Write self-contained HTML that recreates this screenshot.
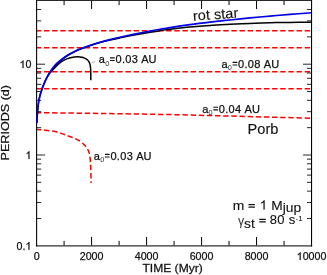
<!DOCTYPE html><html><head><meta charset="utf-8"><style>html,body{margin:0;padding:0;background:#fff;}svg{display:block;will-change:transform;opacity:0.999}text{font-family:"Liberation Sans",sans-serif;fill:#111;stroke:#111;stroke-width:0.25px}</style></head><body>
<svg width="327" height="275" viewBox="0 0 327 275">
<rect width="327" height="275" fill="#fff"/>
<path d="M36.6 30.7H311.55" stroke="#ff0000" stroke-width="1.5" stroke-dasharray="5.4 2.746" stroke-dashoffset="0.75" fill="none"/>
<path d="M36.6 47.7H311.55" stroke="#ff0000" stroke-width="1.5" stroke-dasharray="5.4 2.746" stroke-dashoffset="0.75" fill="none"/>
<path d="M36.6 71.75H311.55" stroke="#ff0000" stroke-width="1.5" stroke-dasharray="5.4 2.746" stroke-dashoffset="0.75" fill="none"/>
<path d="M36.6 88.7H311.55" stroke="#ff0000" stroke-width="1.5" stroke-dasharray="5.4 2.746" stroke-dashoffset="0.75" fill="none"/>
<path d="M36.6 112.7 L100 113.4 L182 114.8 L262 116.9 L311.55 118.2" stroke="#ff0000" stroke-width="1.5" stroke-dasharray="5.4 2.746" stroke-dashoffset="0.75" fill="none"/>
<path d="M36.60 129.50 C38.00 129.62 41.93 129.85 45.00 130.20 C48.07 130.55 52.17 131.03 55.00 131.60 C57.83 132.17 60.00 132.95 62.00 133.60 C64.00 134.25 65.17 134.82 67.00 135.50 C68.83 136.18 70.92 136.80 73.00 137.70 C75.08 138.60 77.50 139.58 79.50 140.90 C81.50 142.22 83.58 144.10 85.00 145.60 C86.42 147.10 87.22 148.30 88.00 149.90 C88.78 151.50 89.28 153.02 89.70 155.20 C90.12 157.38 90.30 160.20 90.50 163.00 C90.70 165.80 90.80 168.67 90.90 172.00 C91.00 175.33 91.07 181.17 91.10 183.00" stroke="#ff0000" stroke-width="1.5" stroke-dasharray="5.4 2.746" stroke-dashoffset="0.75" fill="none"/>
<path d="M36.6 218.47h4.6 M311.55 218.47h-4.6 M36.6 202.48h4.6 M311.55 202.48h-4.6 M36.6 191.13h4.6 M311.55 191.13h-4.6 M36.6 182.33h4.6 M311.55 182.33h-4.6 M36.6 175.14h4.6 M311.55 175.14h-4.6 M36.6 169.07h4.6 M311.55 169.07h-4.6 M36.6 163.80h4.6 M311.55 163.80h-4.6 M36.6 159.15h4.6 M311.55 159.15h-4.6 M36.6 155.00h8.5 M311.55 155.00h-8.5 M36.6 127.67h4.6 M311.55 127.67h-4.6 M36.6 111.68h4.6 M311.55 111.68h-4.6 M36.6 100.33h4.6 M311.55 100.33h-4.6 M36.6 91.53h4.6 M311.55 91.53h-4.6 M36.6 84.34h4.6 M311.55 84.34h-4.6 M36.6 78.27h4.6 M311.55 78.27h-4.6 M36.6 73.00h4.6 M311.55 73.00h-4.6 M36.6 68.35h4.6 M311.55 68.35h-4.6 M36.6 64.20h8.5 M311.55 64.20h-8.5 M36.6 36.87h4.6 M311.55 36.87h-4.6 M36.6 20.88h4.6 M311.55 20.88h-4.6 M36.6 9.53h4.6 M311.55 9.53h-4.6" stroke="#000" stroke-width="0.85" fill="none"/>
<path d="M64.09 245.5v-4.6 M64.09 0.5v4.6 M91.59 245.5v-8.5 M91.59 0.5v8.5 M119.09 245.5v-4.6 M119.09 0.5v4.6 M146.58 245.5v-8.5 M146.58 0.5v8.5 M174.07 245.5v-4.6 M174.07 0.5v4.6 M201.57 245.5v-8.5 M201.57 0.5v8.5 M229.06 245.5v-4.6 M229.06 0.5v4.6 M256.56 245.5v-8.5 M256.56 0.5v8.5 M284.06 245.5v-4.6 M284.06 0.5v4.6" stroke="#000" stroke-width="1" fill="none"/>
<path d="M36.95 122.90 C36.98 122.22 37.03 120.32 37.10 118.80 C37.17 117.28 37.27 115.55 37.40 113.80 C37.52 112.05 37.67 110.13 37.85 108.30 C38.03 106.47 38.26 104.42 38.50 102.80 C38.74 101.18 39.03 99.85 39.30 98.60 C39.57 97.35 39.72 96.63 40.10 95.30 C40.48 93.97 41.03 92.28 41.60 90.60 C42.17 88.92 42.68 87.22 43.50 85.20 C44.32 83.18 45.48 80.53 46.50 78.50 C47.52 76.47 48.60 74.63 49.60 73.00 C50.60 71.37 51.42 70.13 52.50 68.70 C53.58 67.27 54.48 65.97 56.10 64.40 C57.72 62.83 60.17 60.85 62.20 59.30 C64.23 57.75 66.25 56.35 68.30 55.10 C70.35 53.85 72.45 52.80 74.50 51.80 C76.55 50.80 78.32 50.02 80.60 49.10 C82.88 48.18 85.95 47.10 88.20 46.30 C90.45 45.50 92.13 44.93 94.10 44.30 C96.07 43.67 97.35 43.23 100.00 42.52 C102.65 41.81 106.67 40.83 110.00 40.06 C113.33 39.28 116.67 38.58 120.00 37.88 C123.33 37.19 126.67 36.52 130.00 35.88 C133.33 35.24 136.67 34.63 140.00 34.03 C143.33 33.43 146.67 32.85 150.00 32.29 C153.33 31.73 156.67 31.17 160.00 30.67 C163.33 30.18 165.00 29.93 170.00 29.32 C175.00 28.72 183.33 27.69 190.00 27.05 C196.67 26.40 203.33 25.89 210.00 25.44 C216.67 24.99 223.33 24.69 230.00 24.35 C236.67 24.01 243.33 23.67 250.00 23.40 C256.67 23.14 263.33 22.93 270.00 22.76 C276.67 22.60 283.05 22.49 290.00 22.42 C296.95 22.35 308.08 22.37 311.70 22.36" stroke="#000" stroke-width="1.5" fill="none"/>
<path d="M50.00 73.00 C50.52 72.42 52.10 70.60 53.10 69.50 C54.10 68.40 54.98 67.42 56.00 66.40 C57.02 65.38 58.20 64.23 59.20 63.40 C60.20 62.57 60.98 62.03 62.00 61.40 C63.02 60.77 64.25 60.10 65.30 59.60 C66.35 59.10 67.28 58.73 68.30 58.40 C69.32 58.07 70.37 57.83 71.40 57.60 C72.43 57.37 73.48 57.13 74.50 57.00 C75.52 56.87 76.58 56.82 77.50 56.80 C78.42 56.78 79.23 56.82 80.00 56.90 C80.77 56.98 81.43 57.13 82.10 57.30 C82.77 57.47 83.37 57.65 84.00 57.90 C84.63 58.15 85.35 58.48 85.90 58.80 C86.45 59.12 86.87 59.42 87.30 59.80 C87.73 60.18 88.15 60.60 88.50 61.10 C88.85 61.60 89.13 62.17 89.40 62.80 C89.67 63.43 89.92 64.15 90.10 64.90 C90.28 65.65 90.40 66.40 90.50 67.30 C90.60 68.20 90.65 69.05 90.70 70.30 C90.75 71.55 90.78 73.15 90.80 74.80 C90.82 76.45 90.80 79.30 90.80 80.20" stroke="#000" stroke-width="1.5" fill="none"/>
<path d="M91.6 62.9L95.2 61.6" stroke="#999" stroke-width="0.8" fill="none"/>
<path d="M36.0 245.9H312.15000000000003" fill="none" stroke="#303030" stroke-width="1.4"/>
<path d="M36.1 0.4H312.05" fill="none" stroke="#2a2a2a" stroke-width="1.08"/>
<path d="M36.6 0V246.6M311.55 0V246.6" fill="none" stroke="#000" stroke-width="1.08"/>
<path d="M36.95 122.60 C36.98 121.92 37.03 120.02 37.10 118.50 C37.17 116.98 37.27 115.25 37.40 113.50 C37.52 111.75 37.67 109.83 37.85 108.00 C38.03 106.17 38.26 104.12 38.50 102.50 C38.74 100.88 39.03 99.55 39.30 98.30 C39.57 97.05 39.72 96.33 40.10 95.00 C40.48 93.67 41.03 91.98 41.60 90.30 C42.17 88.62 42.68 86.92 43.50 84.90 C44.32 82.88 45.48 80.23 46.50 78.20 C47.52 76.17 48.60 74.33 49.60 72.70 C50.60 71.07 51.42 69.83 52.50 68.40 C53.58 66.97 54.48 65.67 56.10 64.10 C57.72 62.53 60.17 60.55 62.20 59.00 C64.23 57.45 66.25 56.05 68.30 54.80 C70.35 53.55 72.45 52.50 74.50 51.50 C76.55 50.50 78.32 49.72 80.60 48.80 C82.88 47.88 85.95 46.80 88.20 46.00 C90.45 45.20 92.13 44.63 94.10 44.00 C96.07 43.37 97.35 42.96 100.00 42.22 C102.65 41.49 106.67 40.42 110.00 39.59 C113.33 38.76 116.67 38.00 120.00 37.25 C123.33 36.50 126.67 35.79 130.00 35.08 C133.33 34.38 136.67 33.70 140.00 33.03 C143.33 32.37 146.67 31.72 150.00 31.09 C153.33 30.46 156.67 29.85 160.00 29.27 C163.33 28.69 165.00 28.36 170.00 27.60 C175.00 26.83 183.33 25.58 190.00 24.67 C196.67 23.77 203.33 22.96 210.00 22.17 C216.67 21.39 223.33 20.66 230.00 19.95 C236.67 19.25 243.33 18.58 250.00 17.94 C256.67 17.29 263.33 16.68 270.00 16.10 C276.67 15.51 283.05 14.98 290.00 14.42 C296.95 13.86 308.08 13.03 311.70 12.76" stroke="#0000e6" stroke-width="1.65" fill="none"/>
<text x="33.63" y="260.00" font-size="10.7">0</text>
<text x="79.69" y="260.00" font-size="10.7">2</text><text x="85.64" y="260.00" font-size="10.7">0</text><text x="91.59" y="260.00" font-size="10.7">0</text><text x="97.54" y="260.00" font-size="10.7">0</text>
<text x="134.68" y="260.00" font-size="10.7">4</text><text x="140.63" y="260.00" font-size="10.7">0</text><text x="146.58" y="260.00" font-size="10.7">0</text><text x="152.53" y="260.00" font-size="10.7">0</text>
<text x="189.67" y="260.00" font-size="10.7">6</text><text x="195.62" y="260.00" font-size="10.7">0</text><text x="201.57" y="260.00" font-size="10.7">0</text><text x="207.52" y="260.00" font-size="10.7">0</text>
<text x="244.66" y="260.00" font-size="10.7">8</text><text x="250.61" y="260.00" font-size="10.7">0</text><text x="256.56" y="260.00" font-size="10.7">0</text><text x="262.51" y="260.00" font-size="10.7">0</text>
<path transform="translate(296.68,260.00) scale(0.005225,-0.005225)" d="M763 0H583V1147Q518 1085 412.5 1023T223 930V1104Q373 1175 485.5 1275T647 1466H763Z" fill="#111" stroke="#111" stroke-width="47.9"/><text x="302.63" y="260.00" font-size="10.7">0</text><text x="308.58" y="260.00" font-size="10.7">0</text><text x="314.52" y="260.00" font-size="10.7">0</text><text x="320.47" y="260.00" font-size="10.7">0</text>
<path transform="translate(19.50,68.10) scale(0.005225,-0.005225)" d="M763 0H583V1147Q518 1085 412.5 1023T223 930V1104Q373 1175 485.5 1275T647 1466H763Z" fill="#111" stroke="#111" stroke-width="47.9"/><text x="25.45" y="68.10" font-size="10.7">0</text>
<path transform="translate(25.45,158.90) scale(0.005225,-0.005225)" d="M763 0H583V1147Q518 1085 412.5 1023T223 930V1104Q373 1175 485.5 1275T647 1466H763Z" fill="#111" stroke="#111" stroke-width="47.9"/>
<text x="16.53" y="249.70" font-size="10.7">0</text><text x="22.48" y="249.70" font-size="10.7">.</text><path transform="translate(25.45,249.70) scale(0.005225,-0.005225)" d="M763 0H583V1147Q518 1085 412.5 1023T223 930V1104Q373 1175 485.5 1275T647 1466H763Z" fill="#111" stroke="#111" stroke-width="47.9"/>
<text transform="translate(172.6,271.8) scale(1.05,1)" font-size="11.5" text-anchor="middle">TIME (Myr)</text>
<text transform="translate(9.3,122.7) rotate(-90) scale(1.105,1)" font-size="11.4" text-anchor="middle">PERIODS (d)</text>
<text x="98.86" y="63.2" font-size="11" letter-spacing="0.2">a<tspan font-size="7.3" dy="2.7" style="stroke:none;fill:#333">0</tspan></text><path d="M110.00 57.85h4.7M110.00 60.45h4.7" stroke="#111" stroke-width="1.05" fill="none"/><text x="115.50" y="63.2" font-size="11" letter-spacing="0.3">0.03</text><text x="141.20" y="63.2" font-size="11" letter-spacing="0.05">AU</text>
<text x="221.46" y="67.7" font-size="11" letter-spacing="0.2">a<tspan font-size="7.3" dy="2.7" style="stroke:none;fill:#333">0</tspan></text><path d="M232.60 62.35h4.7M232.60 64.95h4.7" stroke="#111" stroke-width="1.05" fill="none"/><text x="238.10" y="67.7" font-size="11" letter-spacing="0.3">0.08</text><text x="263.80" y="67.7" font-size="11" letter-spacing="0.05">AU</text>
<text x="202.16" y="112.6" font-size="11" letter-spacing="0.2">a<tspan font-size="7.3" dy="2.7" style="stroke:none;fill:#333">0</tspan></text><path d="M213.30 107.25h4.7M213.30 109.85h4.7" stroke="#111" stroke-width="1.05" fill="none"/><text x="218.80" y="112.6" font-size="11" letter-spacing="0.3">0.04</text><text x="244.50" y="112.6" font-size="11" letter-spacing="0.05">AU</text>
<text x="93.81" y="159.7" font-size="11" letter-spacing="0.2">a<tspan font-size="7.3" dy="2.7" style="stroke:none;fill:#333">0</tspan></text><path d="M104.95 154.35h4.7M104.95 156.95h4.7" stroke="#111" stroke-width="1.05" fill="none"/><text x="110.45" y="159.7" font-size="11" letter-spacing="0.3">0.03</text><text x="136.15" y="159.7" font-size="11" letter-spacing="0.05">AU</text>
<text transform="translate(247.6,134.2) scale(1.045,1)" font-size="14" style="stroke-width:0.12px">Porb</text>
<text transform="translate(193.2,20.7) rotate(-4.1) scale(1.045,1)" font-size="14" style="stroke-width:0.12px">rot star</text>
<text transform="translate(232.8,209.6) scale(1.07,1)" font-size="13" style="stroke-width:0.12px">m</text>
<path d="M248.5 204.60H254.9M248.5 207.15H254.9" stroke="#111" stroke-width="1.15" fill="none"/>
<path transform="translate(259.80,209.60) scale(0.006348,-0.006348)" d="M763 0H583V1147Q518 1085 412.5 1023T223 930V1104Q373 1175 485.5 1275T647 1466H763Z" fill="#111" stroke="#111" stroke-width="18.9"/>
<text transform="translate(271.3,209.6) scale(1.06,1)" font-size="13" style="stroke-width:0.12px">M<tspan dy="2">jup</tspan></text>
<text x="238.0" y="225.4" font-size="12.4" style="stroke:none;fill:#333">&#947;</text>
<text transform="translate(244.0,227.8) scale(1.06,1)" font-size="13" style="stroke-width:0.12px">st</text>
<path d="M259.3 219.30H265.8M259.3 221.85H265.8" stroke="#111" stroke-width="1.15" fill="none"/>
<text x="269.75" y="224.3" font-size="13" style="stroke-width:0.12px" letter-spacing="0.3">80</text>
<text x="288.8" y="224.3" font-size="13" style="stroke-width:0.12px">s</text>
<text x="295.7" y="221.4" font-size="7" letter-spacing="0.4" style="stroke-width:0.15px">-1</text>
</svg></body></html>
